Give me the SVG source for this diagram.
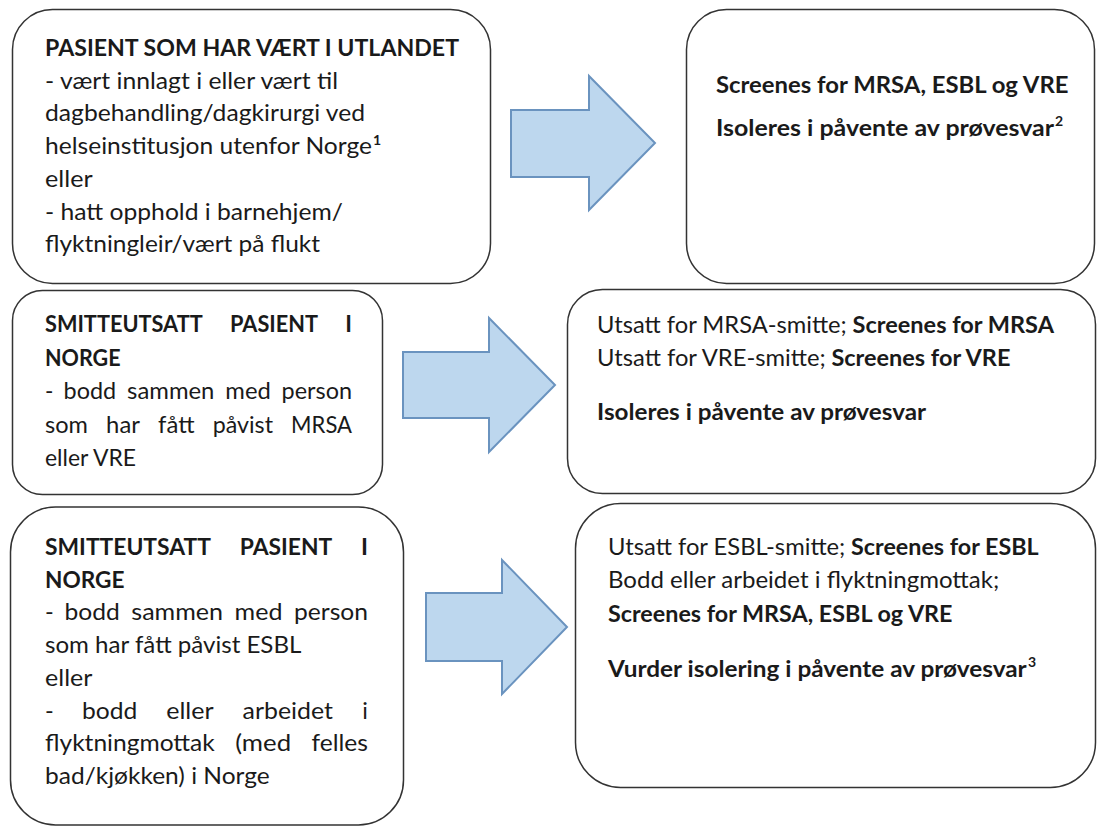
<svg xmlns="http://www.w3.org/2000/svg" width="1097" height="828" viewBox="0 0 1097 828">
<style>
.box{fill:#fff;stroke:#333;stroke-width:1.5}
.arrow{fill:#bdd7ee;stroke:#6a93bf;stroke-width:2;stroke-linejoin:miter}
text{font-family:Lato,"Open Sans","Liberation Sans",sans-serif;font-size:23.5px;fill:#1a1a1a}
.s{font-size:22.6px}
.m{font-size:23px}
.b{font-weight:700}
.sup{font-size:14px}
</style>
<rect width="1097" height="828" fill="#fff"/>
<g id="connectors">
<polygon class="arrow" points="511,110 589,110 589,76 655,143 589,210 589,177 511,177"/>
<polygon class="arrow" points="403,352 489,352 489,318 555,385 489,452 489,418 403,418"/>
<polygon class="arrow" points="426,593 502,593 502,560 567,627 502,694 502,661 426,661"/>
</g>
<g id="node-utland">
<rect class="box" x="12.5" y="9.5" width="478" height="274" rx="40"/>
<text class="b" x="45" y="56" textLength="414" lengthAdjust="spacingAndGlyphs">PASIENT SOM HAR VÆRT I UTLANDET</text>
<text x="45" y="88.7" textLength="293" lengthAdjust="spacingAndGlyphs">- vært innlagt i eller vært til</text>
<text x="45" y="121.4" textLength="320" lengthAdjust="spacingAndGlyphs">dagbehandling/dagkirurgi ved</text>
<text x="45" y="154.1" textLength="327" lengthAdjust="spacingAndGlyphs">helseinstitusjon utenfor Norge</text>
<text class="b sup" x="373" y="145">1</text>
<text x="45" y="186.8" textLength="47.6" lengthAdjust="spacingAndGlyphs">eller</text>
<text x="45" y="219.5" textLength="298" lengthAdjust="spacingAndGlyphs">- hatt opphold i barnehjem/</text>
<text x="45" y="252.2" textLength="275" lengthAdjust="spacingAndGlyphs">flyktningleir/vært på flukt</text>
</g>
<g id="node-utland-tiltak">
<rect class="box" x="686.5" y="9.5" width="408" height="274" rx="40"/>
<text class="b" x="716" y="93" textLength="352.5" lengthAdjust="spacingAndGlyphs">Screenes for MRSA, ESBL og VRE</text>
<text class="b" x="716" y="136" textLength="338" lengthAdjust="spacingAndGlyphs">Isoleres i påvente av prøvesvar</text>
<text class="b sup" x="1055" y="126">2</text>
</g>
<g id="node-mrsa-vre">
<rect class="box" x="12.5" y="290.5" width="370" height="204" rx="30"/>
<text class="b s" x="45" y="332" textLength="157.7" lengthAdjust="spacingAndGlyphs">SMITTEUTSATT</text>
<text class="b s" x="230" y="332" textLength="88" lengthAdjust="spacingAndGlyphs">PASIENT</text>
<text class="b s" x="352" y="332" text-anchor="end">I</text>
<text class="b s" x="45" y="365.5" textLength="75.6" lengthAdjust="spacingAndGlyphs">NORGE</text>
<text class="s" x="45" y="399">-</text>
<text class="s" x="63.6" y="399" textLength="52.6" lengthAdjust="spacingAndGlyphs">bodd</text>
<text class="s" x="127.1" y="399" textLength="87.3" lengthAdjust="spacingAndGlyphs">sammen</text>
<text class="s" x="225.3" y="399" textLength="45.5" lengthAdjust="spacingAndGlyphs">med</text>
<text class="s" x="281.6" y="399" textLength="70.4" lengthAdjust="spacingAndGlyphs">person</text>
<text class="s" x="45" y="432.5" textLength="42.9" lengthAdjust="spacingAndGlyphs">som</text>
<text class="s" x="106.1" y="432.5" textLength="33.8" lengthAdjust="spacingAndGlyphs">har</text>
<text class="s" x="158.1" y="432.5" textLength="36.4" lengthAdjust="spacingAndGlyphs">fått</text>
<text class="s" x="212.7" y="432.5" textLength="60.3" lengthAdjust="spacingAndGlyphs">påvist</text>
<text class="s" x="291.1" y="432.5" textLength="60.9" lengthAdjust="spacingAndGlyphs">MRSA</text>
<text class="s" x="45" y="466" textLength="91" lengthAdjust="spacingAndGlyphs">eller VRE</text>
</g>
<g id="node-mrsa-vre-tiltak">
<rect class="box" x="567.5" y="289.5" width="528" height="204" rx="35"/>
<text class="m" x="597" y="333" textLength="249.8" lengthAdjust="spacingAndGlyphs">Utsatt for MRSA-smitte;</text>
<text class="m b" x="852.6" y="333" textLength="201.4" lengthAdjust="spacingAndGlyphs">Screenes for MRSA</text>
<text class="m" x="597" y="366" textLength="228.7" lengthAdjust="spacingAndGlyphs">Utsatt for VRE-smitte;</text>
<text class="m b" x="831.4" y="366" textLength="179" lengthAdjust="spacingAndGlyphs">Screenes for VRE</text>
<text class="m b" x="597" y="420" textLength="329" lengthAdjust="spacingAndGlyphs">Isoleres i påvente av prøvesvar</text>
</g>
<g id="node-esbl">
<rect class="box" x="10.5" y="507" width="393" height="318" rx="45"/>
<text class="b" x="45" y="555" textLength="165.9" lengthAdjust="spacingAndGlyphs">SMITTEUTSATT</text>
<text class="b" x="239.7" y="555" textLength="92.6" lengthAdjust="spacingAndGlyphs">PASIENT</text>
<text class="b" x="368" y="555" text-anchor="end">I</text>
<text class="b" x="45" y="587.7" textLength="79.5" lengthAdjust="spacingAndGlyphs">NORGE</text>
<text x="45" y="620.4">-</text>
<text x="64.5" y="620.4" textLength="55.3" lengthAdjust="spacingAndGlyphs">bodd</text>
<text x="131.3" y="620.4" textLength="91.8" lengthAdjust="spacingAndGlyphs">sammen</text>
<text x="234.6" y="620.4" textLength="47.9" lengthAdjust="spacingAndGlyphs">med</text>
<text x="294" y="620.4" textLength="74" lengthAdjust="spacingAndGlyphs">person</text>
<text x="45" y="653.1" textLength="256.4" lengthAdjust="spacingAndGlyphs">som har fått påvist ESBL</text>
<text x="45" y="685.8" textLength="47.4" lengthAdjust="spacingAndGlyphs">eller</text>
<text x="45" y="718.5">-</text>
<text x="82" y="718.5" textLength="55.3" lengthAdjust="spacingAndGlyphs">bodd</text>
<text x="166.2" y="718.5" textLength="47.4" lengthAdjust="spacingAndGlyphs">eller</text>
<text x="242.6" y="718.5" textLength="90.4" lengthAdjust="spacingAndGlyphs">arbeidet</text>
<text x="368" y="718.5" text-anchor="end">i</text>
<text x="45" y="751.2" textLength="169.8" lengthAdjust="spacingAndGlyphs">flyktningmottak</text>
<text x="235.2" y="751.2" textLength="55.9" lengthAdjust="spacingAndGlyphs">(med</text>
<text x="311.5" y="751.2" textLength="56.5" lengthAdjust="spacingAndGlyphs">felles</text>
<text x="45" y="783.9" textLength="224.7" lengthAdjust="spacingAndGlyphs">bad/kjøkken) i Norge</text>
</g>
<g id="node-esbl-tiltak">
<rect class="box" x="575.5" y="503.5" width="520" height="284" rx="45"/>
<text class="m" x="608" y="555" textLength="237.3" lengthAdjust="spacingAndGlyphs">Utsatt for ESBL-smitte;</text>
<text class="m b" x="851.1" y="555" textLength="187.5" lengthAdjust="spacingAndGlyphs">Screenes for ESBL</text>
<text class="m" x="608" y="588" textLength="391.2" lengthAdjust="spacingAndGlyphs">Bodd eller arbeidet i flyktningmottak;</text>
<text class="m b" x="608" y="622" textLength="344.5" lengthAdjust="spacingAndGlyphs">Screenes for MRSA, ESBL og VRE</text>
<text class="m b" x="608" y="677" textLength="418.7" lengthAdjust="spacingAndGlyphs">Vurder isolering i påvente av prøvesvar</text>
<text class="b sup" x="1028" y="667">3</text>
</g>
</svg>
